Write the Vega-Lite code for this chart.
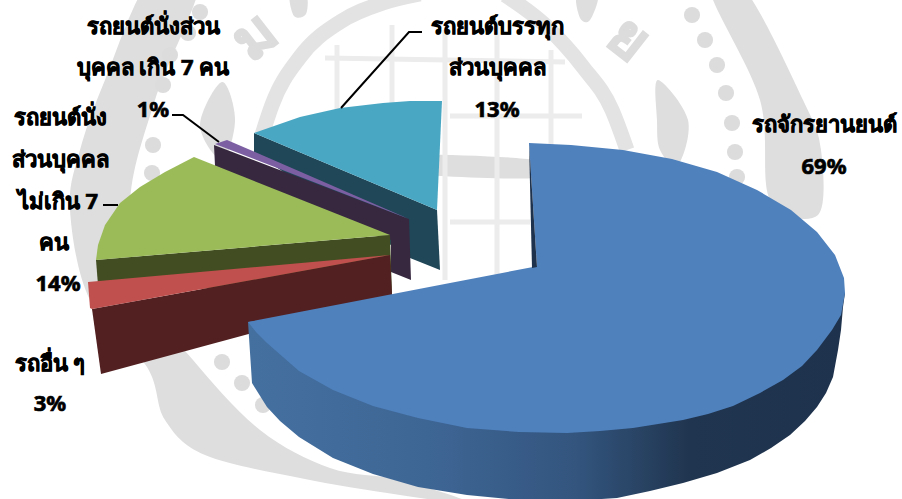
{
  "$schema": "https://vega.github.io/schema/vega-lite/v6.json",
  "width": 902,
  "height": 499,
  "autosize": "none",
  "padding": 0,
  "background": "white",
  "view": {"stroke": null},
  "resolve": {"scale": {"fill": "independent"}},
  "datasets": {
    "shares": [
      {"slice": "รถจักรยานยนต์", "share": 69},
      {"slice": "รถยนต์บรรทุกส่วนบุคคล", "share": 13},
      {"slice": "รถยนต์นั่งส่วนบุคคล เกิน 7 คน", "share": 1},
      {"slice": "รถยนต์นั่งส่วนบุคคลไม่เกิน 7 คน", "share": 14},
      {"slice": "รถอื่น ๆ", "share": 3}
    ],
    "seal": [
      {"part": "band", "a": 150, "b": -20}, {"part": "band", "a": 105, "b": 80}, {"part": "band", "a": 80, "b": 150}, {"part": "band", "a": 70, "b": 210}, {"part": "band", "a": 90, "b": 300}, {"part": "band", "a": 147, "b": 367}, {"part": "band", "a": 165, "b": 420}, {"part": "band", "a": 205, "b": 455}, {"part": "band", "a": 300, "b": 478}, {"part": "band", "a": 400, "b": 495}, {"part": "band", "a": 470, "b": 503}, {"part": "band", "a": 400, "b": 480}, {"part": "band", "a": 330, "b": 468}, {"part": "band", "a": 260, "b": 430}, {"part": "band", "a": 193, "b": 360}, {"part": "band", "a": 150, "b": 300}, {"part": "band", "a": 130, "b": 205}, {"part": "band", "a": 155, "b": 100}, {"part": "band", "a": 200, "b": -20},
      {"part": "band right", "a": 710, "b": -10}, {"part": "band right", "a": 745, "b": -10}, {"part": "band right", "a": 803, "b": 100}, {"part": "band right", "a": 821, "b": 150}, {"part": "band right", "a": 818, "b": 215}, {"part": "band right", "a": 770, "b": 200}, {"part": "band right", "a": 760, "b": 100},
      {"part": "spear left", "a": 222, "b": 82}, {"part": "spear left", "a": 235, "b": 120}, {"part": "spear left", "a": 222, "b": 160}, {"part": "spear left", "a": 200, "b": 125},
      {"part": "spear right", "a": 658, "b": 80}, {"part": "spear right", "a": 688, "b": 120}, {"part": "spear right", "a": 678, "b": 165}, {"part": "spear right", "a": 660, "b": 150}, {"part": "spear right", "a": 657, "b": 120},
      {"part": "bar top", "a": 395, "b": 155}, {"part": "bar top", "a": 535, "b": 160}, {"part": "bar top", "a": 535, "b": 178}, {"part": "bar top", "a": 395, "b": 172},
      {"part": "crest stroke left", "a": 290, "b": -6}, {"part": "crest stroke left", "a": 306, "b": -6}, {"part": "crest stroke left", "a": 306, "b": 14}, {"part": "crest stroke left", "a": 294, "b": 16},
      {"part": "crest stroke right", "a": 577, "b": -6}, {"part": "crest stroke right", "a": 598, "b": -6}, {"part": "crest stroke right", "a": 590, "b": 20}, {"part": "crest stroke right", "a": 580, "b": 18}
    ],
    "ring": [
      {"seg": "seal arc", "a": 262, "b": 135}, {"seg": "seal arc", "a": 272, "b": 105}, {"seg": "seal arc", "a": 300, "b": 57}, {"seg": "seal arc", "a": 340, "b": 22}, {"seg": "seal arc", "a": 383, "b": 3}, {"seg": "seal arc", "a": 420, "b": -6},
      {"seg": "seal arc 2", "a": 505, "b": -5}, {"seg": "seal arc 2", "a": 545, "b": 25}, {"seg": "seal arc 2", "a": 583, "b": 67}, {"seg": "seal arc 2", "a": 612, "b": 110}, {"seg": "seal arc 2", "a": 627, "b": 150}
    ],
    "lattice": [
      {"seg": "v1", "a": 337, "b": 45}, {"seg": "v1", "a": 337, "b": 115},
      {"seg": "v2", "a": 392, "b": 25}, {"seg": "v2", "a": 392, "b": 108},
      {"seg": "v3", "a": 445, "b": 30}, {"seg": "v3", "a": 445, "b": 280},
      {"seg": "v4", "a": 497, "b": 20}, {"seg": "v4", "a": 497, "b": 290},
      {"seg": "v5", "a": 551, "b": 50}, {"seg": "v5", "a": 551, "b": 145},
      {"seg": "h1", "a": 325, "b": 58}, {"seg": "h1", "a": 565, "b": 62},
      {"seg": "h2", "a": 450, "b": 116}, {"seg": "h2", "a": 582, "b": 116},
      {"seg": "h3", "a": 450, "b": 222}, {"seg": "h3", "a": 530, "b": 222}
    ],
    "sealDots": [
      {"a": 692, "b": 15}, {"a": 705, "b": 40}, {"a": 717, "b": 65}, {"a": 726, "b": 93}, {"a": 732, "b": 123}, {"a": 735, "b": 152}, {"a": 737, "b": 177},
      {"a": 200, "b": 12}, {"a": 188, "b": 33}, {"a": 170, "b": 55}, {"a": 163, "b": 85}, {"a": 153, "b": 145}, {"a": 152, "b": 173},
      {"a": 222, "b": 362}, {"a": 242, "b": 383}, {"a": 263, "b": 405}
    ],
    "sealLetters": [
      {"glyph": "ม", "a": 256, "b": 38, "tilt": -38},
      {"glyph": "ย", "a": 628, "b": 40, "tilt": 38}
    ],
    "faces": [
      {"part": "teal side", "a": 254, "b": 133}, {"part": "teal side", "a": 437, "b": 210}, {"part": "teal side", "a": 440, "b": 270}, {"part": "teal side", "a": 410, "b": 258}, {"part": "teal side", "a": 254, "b": 152},
      {"part": "teal top", "a": 442, "b": 101}, {"part": "teal top", "a": 410, "b": 101}, {"part": "teal top", "a": 383, "b": 103}, {"part": "teal top", "a": 340, "b": 108}, {"part": "teal top", "a": 300, "b": 117}, {"part": "teal top", "a": 254, "b": 133}, {"part": "teal top", "a": 437, "b": 210},
      {"part": "purple side", "a": 214, "b": 145}, {"part": "purple side", "a": 409, "b": 219}, {"part": "purple side", "a": 411, "b": 280}, {"part": "purple side", "a": 391, "b": 272}, {"part": "purple side", "a": 391, "b": 240}, {"part": "purple side", "a": 215, "b": 166},
      {"part": "purple top", "a": 215, "b": 144}, {"part": "purple top", "a": 227, "b": 140}, {"part": "purple top", "a": 255, "b": 152}, {"part": "purple top", "a": 409, "b": 219},
      {"part": "green side", "a": 96, "b": 260}, {"part": "green side", "a": 390, "b": 235}, {"part": "green side", "a": 392, "b": 295}, {"part": "green side", "a": 98, "b": 285},
      {"part": "green top", "a": 194, "b": 157}, {"part": "green top", "a": 165, "b": 172}, {"part": "green top", "a": 140, "b": 187}, {"part": "green top", "a": 120, "b": 203}, {"part": "green top", "a": 105, "b": 225}, {"part": "green top", "a": 98, "b": 245}, {"part": "green top", "a": 96, "b": 260}, {"part": "green top", "a": 390, "b": 235},
      {"part": "red side", "a": 92, "b": 309}, {"part": "red side", "a": 390, "b": 255}, {"part": "red side", "a": 392, "b": 295}, {"part": "red side", "a": 101, "b": 374},
      {"part": "red top", "a": 88, "b": 282}, {"part": "red top", "a": 390, "b": 255}, {"part": "red top", "a": 92, "b": 309}, {"part": "red top", "a": 90, "b": 308}
    ],
    "blueSide": [
      {"a": 845, "b": 293}, {"a": 843, "b": 307}, {"a": 841, "b": 330}, {"a": 838, "b": 350}, {"a": 833, "b": 377}, {"a": 826, "b": 393}, {"a": 817, "b": 407}, {"a": 805, "b": 421}, {"a": 790, "b": 435}, {"a": 771, "b": 448}, {"a": 750, "b": 460}, {"a": 717, "b": 473}, {"a": 683, "b": 483}, {"a": 650, "b": 491}, {"a": 617, "b": 498}, {"a": 571, "b": 501}, {"a": 519, "b": 500}, {"a": 467, "b": 495}, {"a": 418, "b": 487}, {"a": 373, "b": 474}, {"a": 333, "b": 458}, {"a": 299, "b": 437}, {"a": 280, "b": 421}, {"a": 267, "b": 407}, {"a": 252, "b": 383}, {"a": 248, "b": 322}, {"a": 400, "b": 300}, {"a": 700, "b": 300}
    ],
    "blueTop": [
      {"part": "blue top", "a": 537, "b": 267}, {"part": "blue top", "a": 529, "b": 143}, {"part": "blue top", "a": 571, "b": 145}, {"part": "blue top", "a": 623, "b": 150}, {"part": "blue top", "a": 672, "b": 159}, {"part": "blue top", "a": 717, "b": 172}, {"part": "blue top", "a": 757, "b": 190}, {"part": "blue top", "a": 791, "b": 210}, {"part": "blue top", "a": 817, "b": 232}, {"part": "blue top", "a": 835, "b": 255}, {"part": "blue top", "a": 844, "b": 278}, {"part": "blue top", "a": 845, "b": 293}, {"part": "blue top", "a": 841, "b": 315}, {"part": "blue top", "a": 832, "b": 330}, {"part": "blue top", "a": 817, "b": 350}, {"part": "blue top", "a": 802, "b": 366}, {"part": "blue top", "a": 783, "b": 380}, {"part": "blue top", "a": 760, "b": 393}, {"part": "blue top", "a": 733, "b": 406}, {"part": "blue top", "a": 708, "b": 414}, {"part": "blue top", "a": 683, "b": 420}, {"part": "blue top", "a": 633, "b": 428}, {"part": "blue top", "a": 600, "b": 431}, {"part": "blue top", "a": 567, "b": 433}, {"part": "blue top", "a": 519, "b": 432}, {"part": "blue top", "a": 467, "b": 428}, {"part": "blue top", "a": 418, "b": 418}, {"part": "blue top", "a": 373, "b": 406}, {"part": "blue top", "a": 333, "b": 390}, {"part": "blue top", "a": 299, "b": 371}, {"part": "blue top", "a": 267, "b": 343}, {"part": "blue top", "a": 256, "b": 332}, {"part": "blue top", "a": 248, "b": 322}, {"part": "blue top", "a": 450, "b": 283}, {"part": "blue top", "a": 533, "b": 267},
      {"part": "blue cut", "a": 529, "b": 143}, {"part": "blue cut", "a": 537, "b": 267}, {"part": "blue cut", "a": 532, "b": 268}
    ],
    "leaders": [
      {"seg": "truck", "a": 341, "b": 108}, {"seg": "truck", "a": 409, "b": 32}, {"seg": "truck", "a": 422, "b": 32},
      {"seg": "van", "a": 219, "b": 142}, {"seg": "van", "a": 183, "b": 115}, {"seg": "van", "a": 172, "b": 115},
      {"seg": "car", "a": 118, "b": 205}, {"seg": "car", "a": 103, "b": 205}
    ],
    "labels": [
      {"line": "รถยนต์นั่งส่วน", "a": 153, "b": 27},
      {"line": "บุคคล เกิน 7 คน", "a": 153, "b": 68},
      {"line": "1%", "a": 153, "b": 110},
      {"line": "รถยนต์นั่ง", "a": 60, "b": 118},
      {"line": "ส่วนบุคคล", "a": 60, "b": 160},
      {"line": "ไม่เกิน 7", "a": 58, "b": 202},
      {"line": "คน", "a": 54, "b": 243},
      {"line": "14%", "a": 58, "b": 284},
      {"line": "รถอื่น ๆ", "a": 50, "b": 364},
      {"line": "3%", "a": 50, "b": 404},
      {"line": "รถยนต์บรรทุก", "a": 497, "b": 27},
      {"line": "ส่วนบุคคล", "a": 497, "b": 68},
      {"line": "13%", "a": 497, "b": 110},
      {"line": "รถจักรยานยนต์", "a": 824, "b": 125},
      {"line": "69%", "a": 824, "b": 167}
    ]
  },
  "data": {"name": "shares"},
  "encoding": {
    "x": {"field": "a", "type": "quantitative", "scale": {"domain": [0, 902], "nice": false, "zero": false}, "axis": null},
    "y": {"field": "b", "type": "quantitative", "scale": {"domain": [499, 0], "nice": false, "zero": false}, "axis": null},
    "order": {"value": null}
  },
  "layer": [
    {
      "data": {"name": "seal"},
      "mark": {"type": "line", "fill": "#dedede", "strokeWidth": 0, "interpolate": "cardinal-closed", "clip": true},
      "encoding": {"detail": {"field": "part"}}
    },
    {
      "data": {"name": "ring"},
      "mark": {"type": "line", "stroke": "#e3e3e3", "strokeWidth": 15, "interpolate": "monotone", "clip": true},
      "encoding": {"detail": {"field": "seg"}}
    },
    {
      "data": {"name": "lattice"},
      "mark": {"type": "line", "stroke": "#ececec", "strokeWidth": 5, "clip": true},
      "encoding": {"detail": {"field": "seg"}}
    },
    {
      "data": {"name": "sealDots"},
      "mark": {"type": "circle", "color": "#dcdcdc", "opacity": 1, "size": 260}
    },
    {
      "data": {"name": "sealLetters"},
      "mark": {"type": "text", "color": "#dcdcdc", "stroke": "#dcdcdc", "strokeWidth": 2, "fontSize": 58, "font": "Noto Sans", "fontWeight": "bold", "align": "center", "baseline": "middle"},
      "encoding": {"text": {"field": "glyph"}, "angle": {"field": "tilt", "type": "quantitative", "scale": null}}
    },
    {
      "data": {"name": "faces"},
      "mark": {"type": "line", "strokeWidth": 0, "clip": true},
      "encoding": {
        "fill": {
          "field": "part",
          "legend": null,
          "scale": {
            "domain": ["teal side", "teal top", "purple side", "purple top", "green side", "green top", "red side", "red top"],
            "range": ["#1f4757", "#4aa7c3", "#372840", "#7c5fa3", "#424e22", "#9bbb59", "#532021", "#c0504d"]
          }
        }
      }
    },
    {
      "data": {"name": "blueSide"},
      "mark": {
        "type": "line",
        "strokeWidth": 0,
        "clip": true,
        "fill": {
          "x1": 0, "y1": 0, "x2": 1, "y2": 0,
          "gradient": "linear",
          "stops": [
            {"offset": 0, "color": "#44709f"},
            {"offset": 0.3, "color": "#3e6695"},
            {"offset": 0.55, "color": "#33557e"},
            {"offset": 0.74, "color": "#20354f"},
            {"offset": 1, "color": "#1e324d"}
          ]
        }
      }
    },
    {
      "data": {"name": "blueTop"},
      "mark": {"type": "line", "strokeWidth": 0, "clip": true},
      "encoding": {
        "fill": {
          "field": "part",
          "legend": null,
          "scale": {"domain": ["blue top", "blue cut"], "range": ["#4f81bd", "#1e324d"]}
        }
      }
    },
    {
      "data": {"name": "leaders"},
      "mark": {"type": "line", "stroke": "black", "strokeWidth": 2},
      "encoding": {"detail": {"field": "seg"}}
    },
    {
      "data": {"name": "labels"},
      "mark": {"type": "text", "color": "black", "stroke": "black", "strokeWidth": 0.7, "fontSize": 22, "fontWeight": "bold", "font": "Noto Sans, DejaVu Sans", "align": "center", "baseline": "middle"},
      "encoding": {"text": {"field": "line"}}
    }
  ]
}
